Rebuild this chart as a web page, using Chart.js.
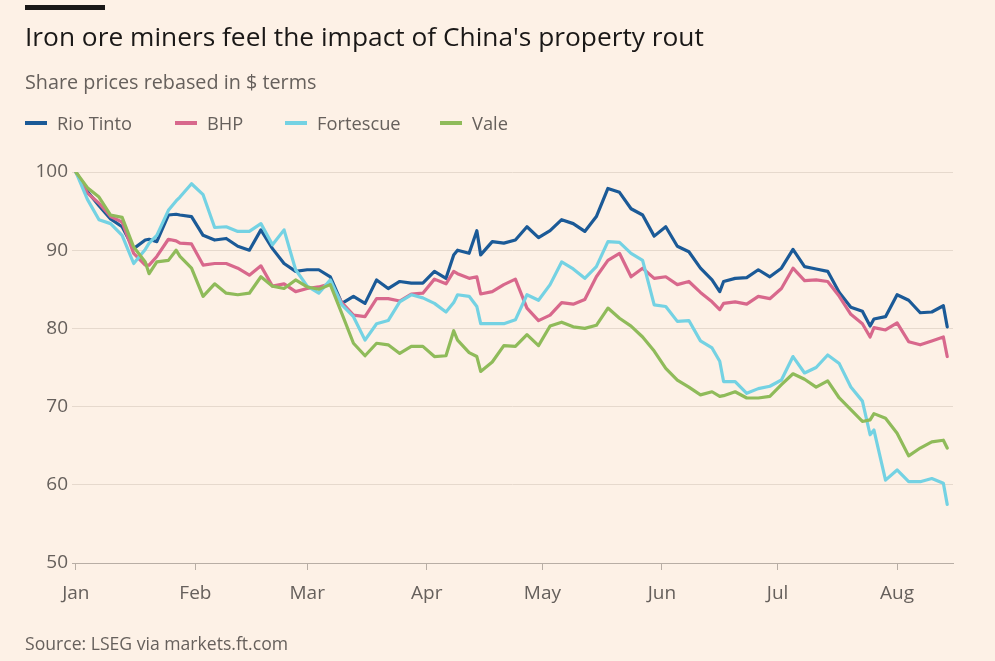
<!DOCTYPE html>
<html>
<head>
<meta charset="utf-8">
<script src="https://cdn.jsdelivr.net/npm/chart.js@4"></script>
<style>
  html, body { margin:0; padding:0; background:#fdf1e6; }
  body { width:995px; height:661px; position:relative; overflow:hidden; font-family: "Open Sans", Lato, sans-serif; }
  #bar { position:absolute; left:25px; top:5px; width:80px; height:5px; background:#1a1817; }
  .txt { position:absolute; left:25px; white-space:nowrap; line-height:1; }
  #title { top:23.3px; font-size:26.3px; color:#1a1817; }
  #subtitle { top:71.8px; font-size:19.8px; color:#66605c; }
  #legend { position:absolute; left:25px; top:114.3px; height:18px; font-size:18.3px; color:#66605c; line-height:1; }
  .item { position:absolute; top:0; white-space:nowrap; }
  .sw { position:absolute; left:0; top:7px; width:22px; height:4px; }
  .lab { position:absolute; left:32px; top:0; }
  #source { top:635.3px; font-size:17.6px; color:#66605c; }
  #wrap { position:absolute; left:0; top:0; width:995px; height:661px; }
</style>
</head>
<body>
<div id="wrap"><canvas id="c" width="995" height="661"></canvas></div>
<div id="bar"></div>
<div id="title" class="txt">Iron ore miners feel the impact of China's property rout</div>
<div id="subtitle" class="txt">Share prices rebased in $ terms</div>
<div id="legend"></div>
<div id="source" class="txt">Source: LSEG via markets.ft.com</div>
<script>
// Day of year (2024) for each observation
const days = [
  1,4,7,10,13,16,19,20,22,25,
  27,28,31,34,37,40,43,46,49,52,
  55,58,61,64,67,70,73,76,79,82,
  85,88,91,94,97,99,100,103,105,106,
  109,112,115,118,121,124,127,130,133,136,
  139,142,145,148,151,154,157,160,163,166,
  168,169,172,175,178,181,184,187,190,193,
  196,199,202,205,207,208,211,214,217,220,
  223,226,227];

const seriesNames = ["Rio Tinto", "BHP", "Fortescue", "Vale"];

const rioTinto = [
  100,97.5,95.7,94.0,93.0,90.2,91.3,91.4,91.1,94.5,
  94.6,94.5,94.3,91.9,91.3,91.5,90.5,90.0,92.6,90.2,
  88.3,87.3,87.5,87.5,86.6,83.2,84.1,83.2,86.2,85.1,
  86.0,85.8,85.8,87.3,86.4,89.4,90.0,89.6,92.5,89.4,
  91.1,90.9,91.3,93.0,91.6,92.5,93.9,93.4,92.4,94.3,
  97.9,97.4,95.3,94.5,91.8,93.0,90.5,89.8,87.7,86.2,
  84.7,86.0,86.4,86.5,87.5,86.6,87.7,90.1,87.9,87.6,
  87.3,84.6,82.7,82.2,80.3,81.2,81.5,84.3,83.6,82.0,
  82.1,82.9,80.2];

const bhp = [
  100,97.3,96.0,94.3,93.6,89.6,88.1,88.1,89.2,91.4,
  91.2,90.9,90.8,88.1,88.3,88.3,87.7,86.8,88.0,85.4,
  85.7,84.7,85.1,85.3,85.7,83.3,81.7,81.5,83.8,83.8,
  83.5,84.4,84.5,86.3,85.7,87.3,87.0,86.4,86.6,84.4,
  84.7,85.6,86.3,82.6,81.0,81.7,83.3,83.1,83.7,86.6,
  88.7,89.6,86.6,87.7,86.4,86.6,85.6,86.0,84.6,83.4,
  82.4,83.2,83.4,83.1,84.1,83.8,85.1,87.7,86.1,86.2,
  86.0,84.1,81.8,80.6,78.9,80.1,79.8,80.7,78.3,77.9,
  78.4,78.9,76.4];

const fortescue = [
  100,96.5,93.9,93.4,91.9,88.3,90.1,90.9,91.9,95.1,
  96.3,96.8,98.5,97.1,92.9,93.0,92.4,92.4,93.4,90.7,
  92.6,87.5,85.4,84.5,86.2,83.0,81.5,78.5,80.6,81.0,
  83.4,84.3,83.9,83.2,82.1,83.3,84.3,84.1,82.8,80.6,
  80.6,80.6,81.1,84.3,83.6,85.6,88.5,87.6,86.4,87.9,
  91.1,91.0,89.6,88.7,83.0,82.8,80.9,81.0,78.4,77.5,
  75.8,73.2,73.2,71.7,72.3,72.6,73.4,76.4,74.3,75.0,
  76.6,75.5,72.5,70.7,66.4,67.0,60.6,61.9,60.4,60.4,
  60.8,60.2,57.5];

const vale = [
  100,98.0,96.8,94.5,94.2,90.4,88.5,87.0,88.5,88.7,
  90.0,89.2,87.7,84.1,85.7,84.5,84.3,84.5,86.6,85.4,
  85.1,86.2,85.3,85.0,85.6,81.9,78.1,76.5,78.1,77.9,
  76.8,77.7,77.7,76.4,76.5,79.7,78.5,76.9,76.4,74.5,
  75.7,77.8,77.7,79.2,77.8,80.3,80.8,80.2,80.0,80.4,
  82.6,81.3,80.3,78.9,77.1,74.9,73.4,72.5,71.5,71.9,
  71.3,71.4,71.9,71.1,71.1,71.3,72.8,74.2,73.5,72.5,
  73.3,71.1,69.6,68.1,68.3,69.1,68.5,66.6,63.7,64.7,
  65.5,65.7,64.7];

const monthStarts = [1,32,61,92,122,153,183,214];
const monthLabels = ["Jan","Feb","Mar","Apr","May","Jun","Jul","Aug"];
const yTicks = [50,60,70,80,90,100];

const colors = ["#1b5a97", "#d8688c", "#74d2e3", "#8fbb5a"];
const allSeries = [rioTinto, bhp, fortescue, vale];

// legend (HTML text)
const legendX = [0, 150, 260, 415];
const legend = document.getElementById('legend');
seriesNames.forEach((n, i) => {
  const d = document.createElement('div');
  d.className = 'item';
  d.style.left = legendX[i] + 'px';
  d.innerHTML = '<span class="sw" style="background:' + colors[i] + '"></span><span class="lab">' + n + '</span>';
  legend.appendChild(d);
});

const datasets = seriesNames.map((n, i) => ({
  label: n,
  data: days.map((d, j) => ({ x: d, y: allSeries[i][j] })),
  borderColor: colors[i],
  backgroundColor: colors[i],
  borderWidth: 3.2,
  pointRadius: 0,
  tension: 0,
  borderJoinStyle: 'round',
  borderCapStyle: 'round'
})).reverse();

const FONT = '"Open Sans", Lato, sans-serif';

new Chart(document.getElementById('c'), {
  type: 'line',
  data: { datasets },
  options: {
    responsive: false,
    animation: false,
    events: [],
    layout: { padding: { top: 172, right: 42, bottom: 40, left: 0 } },
    plugins: { legend: { display: false }, tooltip: { enabled: false } },
    scales: {
      x: {
        type: 'linear',
        min: 0,
        max: 228.5,
        afterBuildTicks: (s) => { s.ticks = monthStarts.map(v => ({ value: v })); },
        afterFit: (s) => { s.height = 58; },
        ticks: {
          autoSkip: false,
          maxRotation: 0,
          padding: 12.5,
          color: '#66605c',
          font: { family: FONT, size: 19 },
          callback: (v) => { const k = monthStarts.indexOf(v); return k >= 0 ? monthLabels[k] : ''; }
        },
        grid: { display: true, drawOnChartArea: false, drawTicks: true, tickLength: 7, color: '#b8aea5' },
        border: { display: true, color: '#b8aea5', width: 1 }
      },
      y: {
        type: 'linear',
        min: 50,
        max: 100,
        afterBuildTicks: (s) => { s.ticks = yTicks.map(v => ({ value: v })); },
        afterFit: (s) => { s.width = 72; },
        ticks: {
          padding: 4,
          color: '#66605c',
          font: { family: FONT, size: 19 }
        },
        grid: { color: '#e6d9cd', drawTicks: false, lineWidth: 1 },
        border: { display: false }
      }
    }
  }
});
</script>
</body>
</html>
